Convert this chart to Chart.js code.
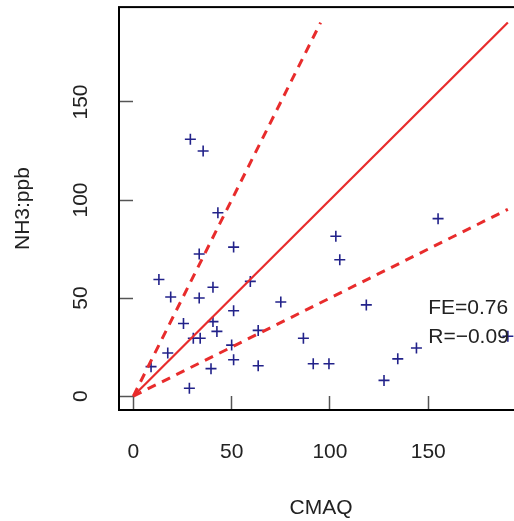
<!DOCTYPE html>
<html>
<head>
<meta charset="utf-8">
<script src="https://cdn.jsdelivr.net/npm/chart.js@4/dist/chart.umd.min.js"></script>
<style>
    html, body { margin: 0; padding: 0; overflow: hidden; background: #fff; }
    #wrap { width: 540px; height: 521px; }
</style>
</head>
<body>
<div id="wrap"><canvas id="ScatterCanvas" width="540" height="521"></canvas></div>
<script>
// model (CMAQ) vs observed NH3, ppb
var cmaq = [13, 19, 33.5, 40.5, 59.5, 75, 51, 25.5, 40.5, 42.5, 30.5, 34, 63.5, 50, 17.5, 51, 39.5, 63.5,
    9, 28.5, 29, 35.5, 43, 51, 33.5, 155, 103, 105, 118.5, 86.5, 91.5, 99.5, 127.5, 134.5, 144, 190.5];
var nh3 = [59.5, 50.5, 50, 55.5, 58.5, 48, 43.5, 37, 38, 33, 29.5, 29.5, 33.5, 26, 22, 18.5, 14, 15.5,
    15, 4, 131, 125, 93.5, 76, 72.5, 90.5, 81.5, 69.5, 46.5, 29.5, 16.5, 16.5, 8, 19, 24.5, 30.5];

// 1:1, 2:1 and 1:2 reference lines
var lineMax = 190.5;
var oneToOne = [0, lineMax];
var twoToOneX = [0, lineMax / 2];
var twoToOneY = [0, lineMax];
var oneToTwoX = [0, lineMax];
var oneToTwoY = [0, lineMax / 2];

var xTicks = [0, 50, 100, 150];
var yTicks = [0, 50, 100, 150];

var statLabels = ['FE=0.76', 'R=\u22120.09'];
var statY = [45, 30];
var statX = 150;

var FONT = '"Liberation Sans", Arial, Helvetica, sans-serif';
var TEXT = '#222222';
var RED = 'rgb(232, 44, 44)';

function pts(xs, ys) {
    var out = [];
    for (var i = 0; i < xs.length; i++) out.push({ x: xs[i], y: ys[i] });
    return out;
}

// box around the plot, rotated y labels and the stats text
var framePlugin = {
    id: 'frame',
    afterDraw: function (chart) {
        var ctx = chart.ctx, a = chart.chartArea;
        var xs = chart.scales.x, ys = chart.scales.y;
        ctx.save();
        ctx.strokeStyle = '#000';
        ctx.lineWidth = 2;
        ctx.strokeRect(a.left, a.top, a.right - a.left, a.bottom - a.top);

        ctx.fillStyle = TEXT;
        ctx.font = '21px ' + FONT;
        ctx.textAlign = 'center';
        ctx.textBaseline = 'alphabetic';
        ys.ticks.forEach(function (t) {
            ctx.save();
            ctx.translate(87, ys.getPixelForValue(t.value));
            ctx.rotate(-Math.PI / 2);
            ctx.fillText(String(t.value), 0, 0);
            ctx.restore();
        });

        ctx.textAlign = 'left';
        ctx.textBaseline = 'middle';
        for (var i = 0; i < statLabels.length; i++) {
            ctx.fillText(statLabels[i], xs.getPixelForValue(statX), ys.getPixelForValue(statY[i]));
        }
        ctx.restore();
    }
};

window.onload = function () {
    var ctx = document.getElementById('ScatterCanvas').getContext('2d');

    window.Scatter = new Chart(ctx, {
        type: 'scatter',
        data: {
            datasets: [
                {
                    data: pts(oneToOne, oneToOne),
                    showLine: true, borderColor: RED, borderWidth: 2.2, pointRadius: 0
                },
                {
                    data: pts(twoToOneX, twoToOneY),
                    showLine: true, borderColor: RED, borderWidth: 3, borderDash: [9, 7], pointRadius: 0
                },
                {
                    data: pts(oneToTwoX, oneToTwoY),
                    showLine: true, borderColor: RED, borderWidth: 3, borderDash: [9, 7], pointRadius: 0
                },
                {
                    data: pts(cmaq, nh3),
                    pointStyle: 'cross', pointRadius: 5.5, borderWidth: 1.6,
                    borderColor: '#22228a', backgroundColor: '#22228a'
                }
            ]
        },
        options: {
            responsive: false,
            animation: false,
            devicePixelRatio: 1,
            layout: { padding: { top: 6, right: 17, left: 0, bottom: 0 } },
            plugins: { legend: { display: false }, tooltip: { enabled: false } },
            scales: {
                x: {
                    type: 'linear', min: -7.3, max: 198.2,
                    afterBuildTicks: function (s) { s.ticks = xTicks.map(function (v) { return { value: v }; }); },
                    afterFit: function (s) { s.height = 111; },
                    border: { display: false },
                    grid: { drawOnChartArea: false, drawTicks: true, tickLength: -14, tickColor: '#555', tickWidth: 1.5 },
                    ticks: { padding: 44, color: TEXT, font: { family: FONT, size: 21 } },
                    title: { display: true, text: 'CMAQ', color: TEXT, padding: { top: 0, bottom: 0 }, font: { family: FONT, size: 21 } }
                },
                y: {
                    type: 'linear', min: -7.1, max: 198.4,
                    afterBuildTicks: function (s) { s.ticks = yTicks.map(function (v) { return { value: v }; }); },
                    afterFit: function (s) { s.width = 119; },
                    border: { display: false },
                    grid: { drawOnChartArea: false, drawTicks: true, tickLength: -14, tickColor: '#555', tickWidth: 1.5 },
                    ticks: { display: false },
                    title: { display: true, text: 'NH3:ppb', color: TEXT, padding: { top: 11, bottom: 0 }, font: { family: FONT, size: 21 } }
                }
            }
        },
        plugins: [framePlugin]
    });
};
</script>
</body>
</html>
